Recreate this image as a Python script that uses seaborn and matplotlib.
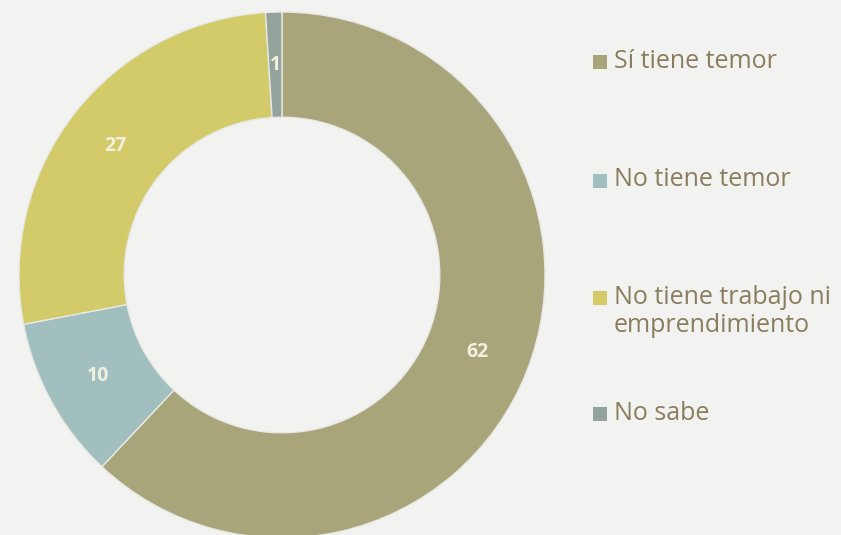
import matplotlib
matplotlib.use("Agg")
import matplotlib.pyplot as plt
import seaborn as sns
from matplotlib.patches import Rectangle

categories = ["Sí tiene temor", "No tiene temor", "No tiene trabajo ni\nemprendimiento", "No sabe"]
values = [62, 10, 27, 1]
colors = ["#a8a57b", "#a0bfbe", "#d3cb6a", "#94a49c"]

sns.set_theme(style="white")
plt.rcParams["font.family"] = ["Open Sans", "DejaVu Sans"]

bg = "#f2f2f0"
W, H = 841, 535
fig = plt.figure(figsize=(W / 100, H / 100), dpi=100, facecolor=bg)

cx, cy, R = 282, 275, 263
ax = fig.add_axes([(cx - R) / W, (H - cy - R) / H, 2 * R / W, 2 * R / H])
ax.set_facecolor("none")
wedges, _, autotexts = ax.pie(
    values, colors=colors, startangle=90, counterclock=False, radius=1,
    wedgeprops=dict(width=0.4, edgecolor="#e8e8e4", linewidth=1),
    autopct=lambda p: f"{round(p):d}", pctdistance=0.8,
    textprops=dict(color="#f3f0df", fontsize=14, fontweight="bold"),
)
ax.set_xlim(-1, 1)
ax.set_ylim(-1, 1)
ax.set_aspect("equal")
ax.axis("off")

# legend
ys = [62, 181, 298, 414]
for lab, col, y in zip(categories, colors, ys):
    fig.patches.append(Rectangle((593 / W, (H - y - 7) / H), 14 / W, 14 / H,
                                 transform=fig.transFigure, facecolor=col, edgecolor="none"))
    for i, line in enumerate(lab.split("\n")):
        fig.text(614 / W, (H - y - 29 * i + 1) / H, line, va="center", ha="left",
                 fontsize=18, color="#8a7d5e")

fig.savefig("out.png", dpi=100, facecolor=bg)
